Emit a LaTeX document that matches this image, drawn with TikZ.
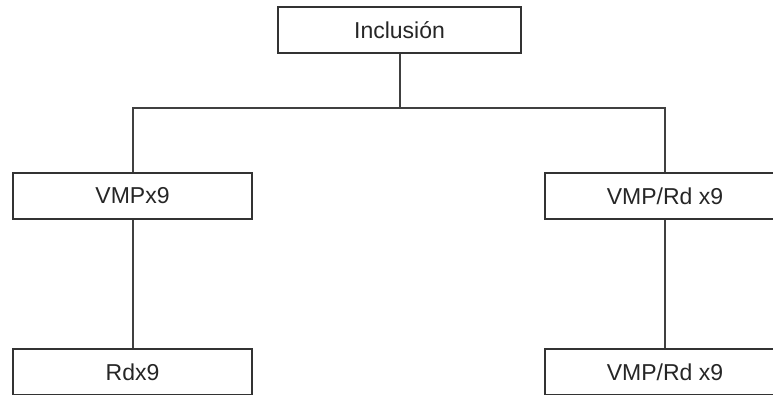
\documentclass[tikz,border=0pt]{standalone}
\usepackage{fontspec}
\setmainfont{Liberation Sans}
\begin{document}
\begin{tikzpicture}[x=1pt,y=-1pt,
  box/.style={draw=black!80, line width=2pt, fill=white, minimum height=46pt, inner sep=0pt,
    font=\fontsize{23}{27}\selectfont, text=black!85},
  link/.style={draw=black!75, line width=2pt}]
\useasboundingbox (0,0) rectangle (773,394);
\clip (0,0) rectangle (773,394);
\coordinate (bus) at (399.5,108);
\node[box, minimum width=243pt] (inc) at (399.5,30) {Inclusión};
\node[box, minimum width=239pt] (a) at (132.5,196) {VMPx9};
\node[box, minimum width=240pt] (b) at (665,196) {VMP/Rd x9};
\node[box, minimum width=239pt] (c) at (132.5,372) {Rdx9};
\node[box, minimum width=240pt] (d) at (665,372) {VMP/Rd x9};
\draw[link] (inc.south) -- (bus);
\draw[link] (a.north) |- (bus) -| (b.north);
\draw[link] (a.south) -- (c.north);
\draw[link] (b.south) -- (d.north);
\end{tikzpicture}
\end{document}
